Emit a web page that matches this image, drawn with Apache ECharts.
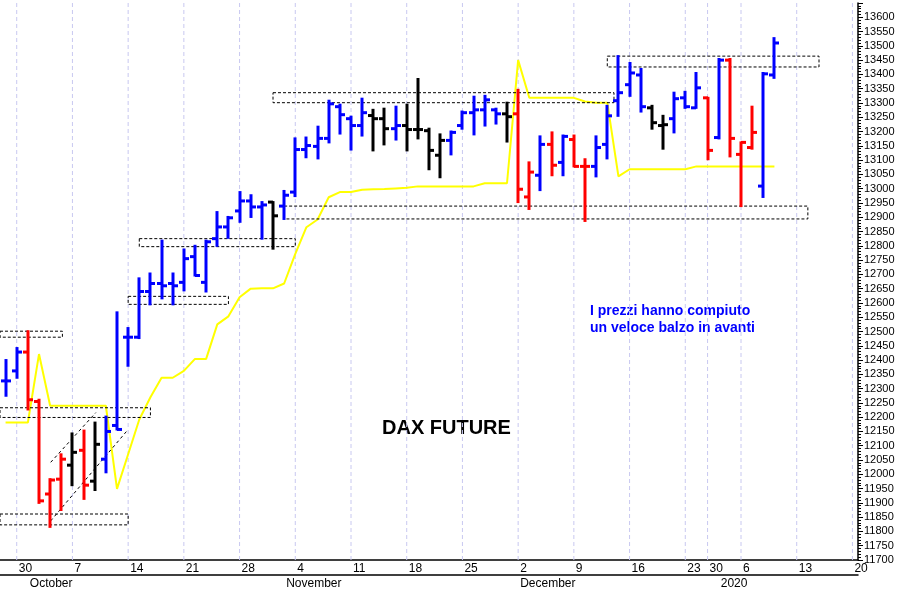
<!DOCTYPE html>
<html><head><meta charset="utf-8">
<script src="https://cdn.jsdelivr.net/npm/echarts@6/dist/echarts.min.js"></script>
<style>html,body{margin:0;padding:0;background:#fff}#c{width:906px;height:591px}</style>
</head><body><div id="c"></div>
<script>
// trading days
const dates = ['2019-09-27','2019-09-30',
'2019-10-01','2019-10-02','2019-10-03','2019-10-04','2019-10-07','2019-10-08','2019-10-09','2019-10-10','2019-10-11',
'2019-10-14','2019-10-15','2019-10-16','2019-10-17','2019-10-18','2019-10-21','2019-10-22','2019-10-23','2019-10-24','2019-10-25',
'2019-10-28','2019-10-29','2019-10-30','2019-10-31',
'2019-11-01','2019-11-04','2019-11-05','2019-11-06','2019-11-07','2019-11-08','2019-11-11','2019-11-12','2019-11-13','2019-11-14','2019-11-15',
'2019-11-18','2019-11-19','2019-11-20','2019-11-21','2019-11-22','2019-11-25','2019-11-26','2019-11-27','2019-11-28','2019-11-29',
'2019-12-02','2019-12-03','2019-12-04','2019-12-05','2019-12-06','2019-12-09','2019-12-10','2019-12-11','2019-12-12','2019-12-13',
'2019-12-16','2019-12-17','2019-12-18','2019-12-19','2019-12-20','2019-12-23','2019-12-27','2019-12-30',
'2020-01-02','2020-01-03','2020-01-06','2020-01-07','2020-01-08','2020-01-09','2020-01-10',
'2020-01-13','2020-01-14','2020-01-15','2020-01-16','2020-01-17','2020-01-20'];
// OHLC bars: [open, high, low, close]
const ohlc = [
[12327,12400,12275,12327],[12362,12442,12338,12428],[12428,12501,12227,12261],[12255,12261,11900,11907],
[11931,11983,11816,11980],[11983,12070,11875,12053],[12032,12143,11962,12077],[12084,12153,11914,11962],
[11976,12181,11945,12105],[12053,12202,12007,12150],[12171,12567,12157,12157],[12480,12512,12380,12480],
[12480,12686,12477,12640],[12640,12703,12595,12668],[12668,12818,12616,12660],[12668,12703,12595,12660],
[12672,12787,12644,12755],[12762,12800,12696,12696],[12672,12818,12640,12814],[12825,12918,12800,12866],
[12866,12901,12828,12898],[12922,12988,12884,12957],[12957,12977,12901,12936],[12936,12953,12825,12943],
[12953,12953,12790,12905],[12939,12992,12894,12977],[12988,13176,12974,13137],[13137,13179,13110,13151],
[13148,13217,13106,13176],[13176,13308,13162,13297],[13287,13294,13193,13259],[13245,13252,13137,13221],
[13221,13315,13186,13266],[13256,13276,13134,13245],[13245,13280,13155,13210],[13210,13287,13172,13221],
[13221,13294,13134,13207],[13207,13384,13176,13207],[13203,13210,13068,13134],[13117,13190,13040,13169],
[13169,13200,13120,13197],[13221,13270,13210,13266],[13266,13322,13190,13276],[13276,13325,13221,13311],
[13276,13280,13228,13262],[13262,13301,13165,13252],[13262,13346,12953,12998],[12971,13092,12929,13058],
[13047,13183,12995,13155],[13155,13197,13047,13082],[13092,13186,13047,13183],[13172,13186,13078,13078],
[13078,13103,12887,13078],[13078,13183,13043,13144],[13155,13290,13106,13255],[13308,13464,13255,13336],
[13364,13440,13325,13405],[13398,13419,13270,13287],[13283,13290,13210,13231],[13221,13255,13140,13224],
[13245,13336,13197,13315],[13318,13339,13283,13287],[13283,13405,13283,13353],[13318,13318,13103,13134],
[13179,13454,13176,13450],[13450,13454,13113,13176],[13120,13162,12939,13162],[13144,13287,13140,13197],
[13009,13405,12971,13402],[13398,13527,13388,13510]];
// bar colours: b=blue, r=red, k=black
const barColors = [
'b','b','r','r','r','r','k','r','k','b',
'b','b','b','b','b','b','b','b','b','b',
'b','b','b','b','k','b','b','b','b','b',
'b','b','b','k','k','b','k','k','k','k',
'b','b','b','b','b','k','r','r','b','r',
'b','r','r','b','b','b','b','b','k','k',
'b','b','b','r','b','r','r','r','b','b'];
// yellow line
const yellow = [12181,12181,12181,12421,12240,12240,12240,12240,12240,12240,11949,12070,12192,12270,12338,12338,
12362,12404,12404,12525,12553,12620,12650,12651,12651,12668,12772,12865,12892,12970,12988,12988,12996,12998,12999,
13001,13003,13008,13008,13008,13008,13008,13008,13019,13019,13019,13450,13318,13318,13318,13318,13318,13305,13301,
13301,13043,13068,13068,13068,13068,13068,13068,13078,13078,13078,13078,13078,13078,13078,13078];
// dashed boxes: [fromIdx, toIdx, low, high]
const boxes = [[-0.5,5.1,12480,12501],[-0.5,13,12199,12233],[-0.5,11,11823,11861],[11,20,12595,12623],
[12,26,12797,12825],[24,54.6,13301,13336],[25,72,12894,12939],[54,73,13426,13464]];
// dashed channel lines: [x1,y1,x2,y2]
const channels = [[4.05,12042,8.1,12216],[4.05,11837,11,12157]];
const monthNames = ['January','February','March','April','May','June','July','August','September','October','November','December'];

const colMap = {b:'#0000ff', r:'#ff0000', k:'#000000'};
function weekKey(s){const d=new Date(s+'T12:00:00Z');d.setUTCDate(d.getUTCDate()-((d.getUTCDay()+6)%7));return d.toISOString().slice(0,10);}
const weekStart = dates.map((d,i)=> i>0 && weekKey(d)!==weekKey(dates[i-1]));
const monthStart = dates.map((d,i)=> i>0 && d.slice(0,7)!==dates[i-1].slice(0,7));
const weekLines = dates.map((d,i)=>i).filter(i=>weekStart[i]).map(i=>[i,11700,13650]);
const font = 'Liberation Sans';

const chart = echarts.init(document.getElementById('c'));
chart.setOption({
  animation:false,
  grid:{left:0,right:48,top:3,bottom:31},
  xAxis:[
    {type:'category',data:dates,boundaryGap:true,position:'bottom',
     axisLine:{lineStyle:{color:'#000',width:1.5}},
     axisTick:{alignWithLabel:true,interval:(i)=>weekStart[i],length:15,lineStyle:{color:'#000'}},
     axisLabel:{interval:(i)=>weekStart[i],formatter:(v)=>String(+v.slice(8)),align:'left',padding:[0,0,0,2],
       margin:3,fontFamily:font,fontSize:12,color:'#000'},splitLine:{show:false}},
    {type:'category',data:dates,boundaryGap:true,position:'bottom',offset:15,
     axisLine:{lineStyle:{color:'#000',width:1.5}},
     axisTick:{alignWithLabel:true,interval:(i)=>monthStart[i],length:16,lineStyle:{color:'#000'}},
     axisLabel:{interval:(i)=>monthStart[i],formatter:(v)=>{const m=+v.slice(5,7);return m===1?v.slice(0,4):monthNames[m-1];},
       align:'left',padding:[0,0,0,2],margin:3,fontFamily:font,fontSize:12,color:'#000'}},
    {type:'value',min:-0.5,max:dates.length-0.5,show:false}
  ],
  yAxis:{type:'value',position:'right',min:11700,max:13650,interval:50,
    axisLine:{show:true,onZero:false,lineStyle:{color:'#000',width:1.5}},
    axisTick:{show:true,length:5,lineStyle:{color:'#000'}},
    minorTick:{show:true,splitNumber:5,length:3,lineStyle:{color:'#000'}},
    axisLabel:{fontFamily:font,fontSize:11,color:'#000',margin:6,showMaxLabel:false,formatter:(v)=>String(v)},
    splitLine:{show:false}},
  graphic:[
    {type:'text',left:382,top:418,style:{text:'DAX FUTURE',font:'bold 20px "Liberation Sans"',fill:'#000'}},
    {type:'text',left:590,top:303,style:{text:'I prezzi hanno compiuto\nun veloce balzo in avanti',align:'center',x:90,
      font:'bold 14px "Liberation Sans"',lineHeight:17,fill:'#0000ff'}}
  ],
  series:[
    {type:'custom',xAxisIndex:2,data:weekLines,encode:{x:0,y:[1,2]},z:1,silent:true,
     renderItem:(p,api)=>{const a=api.coord([api.value(0),api.value(1)]),b=api.coord([api.value(0),api.value(2)]);
       return {type:'line',shape:{x1:a[0],y1:a[1],x2:b[0],y2:b[1]},style:{stroke:'#c8c8f0',lineWidth:1,lineDash:[4,3]}};}},
    {type:'line',data:yellow,symbol:'none',z:2,lineStyle:{color:'#ffff00',width:2},silent:true},
    {type:'custom',xAxisIndex:2,data:boxes,encode:{x:[0,1],y:[2,3]},z:3,silent:true,
     renderItem:(p,api)=>{const a=api.coord([api.value(0),api.value(3)]),b=api.coord([api.value(1),api.value(2)]);
       return {type:'rect',shape:{x:a[0],y:a[1],width:b[0]-a[0],height:b[1]-a[1]},style:{fill:'none',stroke:'#000',lineWidth:1,lineDash:[3,2]}};}},
    {type:'custom',xAxisIndex:2,data:channels,encode:{x:[0,2],y:[1,3]},z:3,silent:true,
     renderItem:(p,api)=>{const a=api.coord([api.value(0),api.value(1)]),b=api.coord([api.value(2),api.value(3)]);
       return {type:'line',shape:{x1:a[0],y1:a[1],x2:b[0],y2:b[1]},style:{stroke:'#000',lineWidth:1,lineDash:[3,3]}};}},
    {type:'custom',z:4,silent:true,data:ohlc.map((d,i)=>[i].concat(d)),encode:{x:0,y:[1,2,3,4]},
     renderItem:(p,api)=>{const i=api.value(0);const c=colMap[barColors[i]];
       const o=api.coord([i,api.value(1)]),h=api.coord([i,api.value(2)]),l=api.coord([i,api.value(3)]),cl=api.coord([i,api.value(4)]);
       const x=Math.round(h[0]);const st={stroke:c,lineWidth:3};
       return {type:'group',children:[
         {type:'line',shape:{x1:x,y1:h[1]-1,x2:x,y2:l[1]+1},style:st},
         {type:'line',shape:{x1:x-5,y1:o[1],x2:x,y2:o[1]},style:st},
         {type:'line',shape:{x1:x,y1:cl[1],x2:x+5,y2:cl[1]},style:st}]};}}
  ]
});
</script></body></html>
